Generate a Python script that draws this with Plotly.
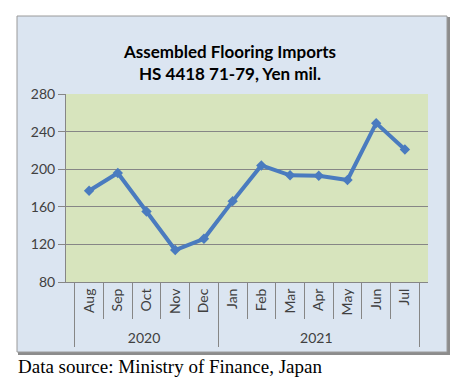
import plotly.graph_objects as go

years = ["2020"] * 5 + ["2021"] * 7
months = ["Aug", "Sep", "Oct", "Nov", "Dec", "Jan", "Feb", "Mar", "Apr", "May", "Jun", "Jul"]
values = [177, 196, 155, 114, 126, 166, 204, 193.5, 193, 188.5, 249, 221]
y_ticks = [80, 120, 160, 200, 240, 280]

W, H = 458, 379
L, R, T, B = 58, 420, 86, 274
pw, ph = R - L, B - T

def px(x):
    return (x - L) / pw

def py(y):
    return (B - y) / ph

fig = go.Figure()
fig.add_trace(go.Scatter(
    x=[years, months], y=values, mode="lines+markers",
    line=dict(color="#4a7bbf", width=4),
    marker=dict(symbol="diamond", size=8, color="#4a7bbf"),
    showlegend=False, hoverinfo="skip"
))

shapes = [
    dict(type="rect", xref="paper", yref="paper", x0=px(10), x1=px(442), y0=py(9), y1=py(347),
         fillcolor="#8c8c8c", line=dict(width=0), layer="below"),
    dict(type="rect", xref="paper", yref="paper", x0=px(9), x1=px(439), y0=py(8), y1=py(344),
         fillcolor="#dbe5f1", line=dict(color="#9a9a9a", width=1), layer="below"),
    dict(type="rect", xref="paper", yref="paper", x0=0, x1=1, y0=0, y1=1,
         fillcolor="#d7e4bd", line=dict(width=0), layer="below"),
]

fig.update_layout(
    width=W, height=H,
    margin=dict(l=L, r=W - R, t=T, b=H - B, pad=0),
    paper_bgcolor="white", plot_bgcolor="rgba(0,0,0,0)",
    shapes=shapes,
    title=dict(text="<b>Assembled Flooring Imports<br>HS 4418 71-79, Yen mil.</b>",
               x=px(222), xref="paper", xanchor="center", y=1 - 49.5 / H, yanchor="middle",
               font=dict(family="Lato, Carlito, sans-serif", size=17, color="#000000")),
    font=dict(family="Lato, Carlito, sans-serif", size=14, color="#404040"),
    annotations=[dict(text="Data source: Ministry of Finance, Japan", xref="paper", yref="paper",
                      x=px(8), y=py(358), xanchor="left", yanchor="middle", showarrow=False,
                      font=dict(family="Liberation Serif, Times New Roman, serif", size=19, color="#000000"))],
)

fig.update_yaxes(range=[80, 280], tickvals=y_ticks, showgrid=True, gridcolor="#868686", gridwidth=1,
                 showline=True, linecolor="#868686", linewidth=1, ticks="outside", ticklen=7,
                 tickcolor="#868686", zeroline=False, fixedrange=True)
fig.update_xaxes(type="multicategory", tickangle=-90, showline=True, linecolor="#868686", linewidth=1,
                 ticks="outside", ticklen=36, tickcolor="#868686", showdividers=True,
                 dividercolor="#868686", dividerwidth=1, showgrid=False, fixedrange=True)

fig.write_html("out.html")
